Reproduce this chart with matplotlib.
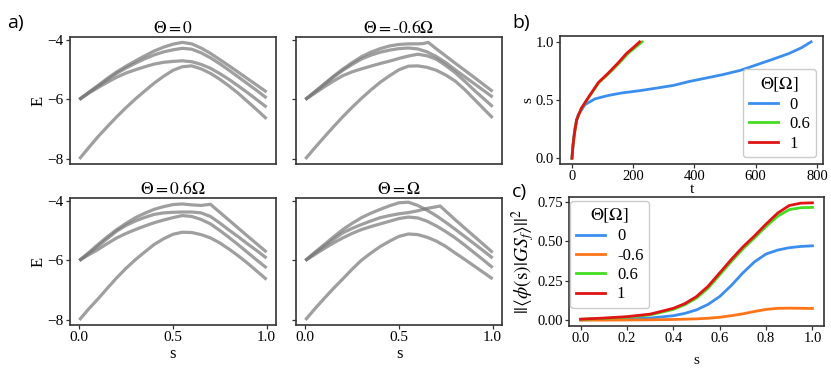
import matplotlib
matplotlib.use("Agg")
import matplotlib.pyplot as plt

plt.rcParams['font.family'] = ['Liberation Serif', 'DejaVu Serif']
plt.rcParams['mathtext.fontset'] = 'stix'

# ---------------- panel a data ----------------
s_grid = [0, .05, .1, .15, .2, .25, .3, .35, .4, .45, .5, .55, .6, .65, .7, .75, .8, .85, .9, .95, 1.0]

# Theta = 0
E0_A = [-6, -5.76, -5.53, -5.29, -5.07, -4.88, -4.70, -4.53, -4.37, -4.24, -4.14, -4.08, -4.13, -4.27, -4.45, -4.66, -4.87, -5.09, -5.31, -5.53, -5.75]
E0_B = [-6, -5.77, -5.55, -5.33, -5.12, -4.94, -4.78, -4.63, -4.50, -4.40, -4.33, -4.28, -4.31, -4.43, -4.60, -4.80, -5.02, -5.25, -5.48, -5.71, -5.95]
E0_C = [-6, -5.79, -5.60, -5.42, -5.25, -5.11, -5.00, -4.90, -4.81, -4.75, -4.72, -4.70, -4.73, -4.82, -4.95, -5.13, -5.33, -5.55, -5.78, -6.02, -6.26]
E0_D = [-8, -7.62, -7.25, -6.91, -6.58, -6.27, -5.98, -5.71, -5.45, -5.22, -5.02, -4.90, -4.87, -4.97, -5.12, -5.32, -5.55, -5.80, -6.08, -6.36, -6.65]

# Theta = -0.6 Omega
sm06_A = [0, .05, .1, .15, .2, .25, .3, .35, .4, .45, .5, .55, .6, .63, .656, .7, .8, .9, 1.0]
Em06_A = [-6, -5.74, -5.48, -5.22, -4.98, -4.76, -4.56, -4.41, -4.29, -4.20, -4.15, -4.13, -4.13, -4.12, -4.08, -4.30, -4.78, -5.25, -5.73]
Em06_B = [-6, -5.75, -5.50, -5.25, -5.02, -4.82, -4.64, -4.51, -4.41, -4.34, -4.29, -4.27, -4.30, -4.40, -4.56, -4.76, -5.00, -5.23, -5.46, -5.69, -5.92]
Em06_C = [-6, -5.79, -5.58, -5.38, -5.20, -5.07, -4.97, -4.88, -4.79, -4.71, -4.62, -4.54, -4.48, -4.53, -4.65, -4.86, -5.10, -5.38, -5.68, -5.96, -6.24]
Em06_D = [-8, -7.63, -7.27, -6.92, -6.58, -6.26, -5.96, -5.68, -5.42, -5.20, -5.00, -4.88, -4.87, -4.92, -5.02, -5.18, -5.38, -5.66, -5.98, -6.30, -6.62]

# Theta = 0.6 Omega
sp06_A = [0, .05, .1, .15, .2, .25, .3, .35, .4, .45, .5, .55, .6, .65, .7, .8, .9, 1.0]
Ep06_A = [-6, -5.74, -5.46, -5.20, -4.96, -4.75, -4.56, -4.41, -4.28, -4.19, -4.12, -4.10, -4.13, -4.15, -4.11, -4.65, -5.19, -5.72]
Ep06_B = [-6, -5.76, -5.52, -5.26, -5.01, -4.82, -4.67, -4.55, -4.45, -4.40, -4.38, -4.37, -4.37, -4.40, -4.52, -4.74, -4.98, -5.21, -5.45, -5.68, -5.92]
Ep06_C = [-6, -5.81, -5.63, -5.43, -5.24, -5.09, -4.96, -4.84, -4.73, -4.64, -4.56, -4.49, -4.52, -4.62, -4.77, -4.99, -5.23, -5.48, -5.74, -6.00, -6.25]
Ep06_D = [-8, -7.63, -7.29, -6.93, -6.58, -6.26, -5.97, -5.71, -5.46, -5.27, -5.12, -5.05, -5.06, -5.13, -5.24, -5.41, -5.62, -5.85, -6.10, -6.37, -6.64]

# Theta = Omega
sp1_A = [0, .05, .1, .15, .2, .25, .3, .35, .4, .45, .5, .55, .6, .65, .72, .8, .9, 1.0]
Ep1_A = [-6, -5.75, -5.52, -5.29, -5.07, -4.92, -4.79, -4.67, -4.56, -4.49, -4.43, -4.39, -4.33, -4.25, -4.17, -4.63, -5.18, -5.73]
Ep1_B = [-6, -5.73, -5.47, -5.21, -4.96, -4.75, -4.56, -4.41, -4.28, -4.16, -4.06, -4.04, -4.15, -4.31, -4.50, -4.72, -4.95, -5.19, -5.43, -5.67, -5.92]
Ep1_C = [-6, -5.80, -5.60, -5.41, -5.24, -5.09, -4.96, -4.86, -4.77, -4.68, -4.59, -4.54, -4.57, -4.68, -4.84, -5.03, -5.24, -5.48, -5.73, -5.98, -6.24]
Ep1_D = [-8, -7.63, -7.28, -6.94, -6.62, -6.29, -5.99, -5.75, -5.53, -5.35, -5.19, -5.11, -5.13, -5.22, -5.35, -5.53, -5.75, -5.96, -6.18, -6.40, -6.62]

titles_a = [r'$\Theta = 0$', r'$\Theta = $-$0.6\Omega$', r'$\Theta = 0.6\Omega$', r'$\Theta = \Omega$']

# ---------------- panel b data ----------------
t_b0 = [0, 4, 9, 20, 42, 75, 120, 161, 220, 270, 330, 384, 440, 492, 550, 600, 650, 709, 750, 781]
s_b0 = [0, 0.13, 0.25, 0.37, 0.46, 0.51, 0.54, 0.56, 0.58, 0.60, 0.625, 0.66, 0.69, 0.718, 0.755, 0.80, 0.845, 0.90, 0.95, 1.0]
t_b06 = [0, 3, 7, 15, 31, 54, 88, 121, 155, 183, 206, 229]
t_b1 = [0, 3, 7, 15, 31, 53, 86, 118, 151, 178, 200, 221]
s_b06 = [0, 0.1, 0.19, 0.33, 0.43, 0.52, 0.65, 0.73, 0.82, 0.90, 0.95, 1.0]
labels_b = ['0', '0.6', '1']

# ---------------- panel c data ----------------
s_c = [0, 0.1, 0.2, 0.3, 0.4, 0.45, 0.5, 0.55, 0.6, 0.65, 0.7, 0.75, 0.8, 0.85, 0.9, 0.95, 1.0]
ov_0 = [0.002, 0.004, 0.007, 0.013, 0.028, 0.043, 0.065, 0.10, 0.15, 0.22, 0.30, 0.37, 0.42, 0.445, 0.46, 0.468, 0.472]
ov_m06 = [0.0, 0.0, 0.001, 0.002, 0.004, 0.006, 0.008, 0.012, 0.018, 0.028, 0.04, 0.055, 0.068, 0.075, 0.076, 0.075, 0.074]
ov_06 = [0.005, 0.011, 0.019, 0.033, 0.068, 0.098, 0.14, 0.203, 0.287, 0.372, 0.452, 0.522, 0.595, 0.66, 0.702, 0.714, 0.716]
ov_1 = [0.006, 0.013, 0.022, 0.038, 0.075, 0.105, 0.15, 0.215, 0.30, 0.385, 0.465, 0.535, 0.61, 0.68, 0.728, 0.743, 0.745]
labels_c = ['0', '-0.6', '0.6', '1']

C_BLUE = '#3b8eee'
C_ORANGE = '#ff7417'
C_GREEN = '#44dd1f'
C_RED = '#e01414'

fig = plt.figure(figsize=(8.31, 3.72), dpi=100)

def style(ax):
    for sp in ax.spines.values():
        sp.set_linewidth(1.2)
        sp.set_color('#333333')
    ax.tick_params(direction='out', length=3, width=0.9, color='#333333', labelsize=11, pad=1.5)

W = 0.2479
H = 0.3414
pos_a = [(0.0842, 0.5591), (0.3562, 0.5591), (0.0842, 0.1263), (0.3562, 0.1263)]
curves_a = [
    [(s_grid, E0_A), (s_grid, E0_B), (s_grid, E0_C), (s_grid, E0_D)],
    [(sm06_A, Em06_A), (s_grid, Em06_B), (s_grid, Em06_C), (s_grid, Em06_D)],
    [(sp06_A, Ep06_A), (s_grid, Ep06_B), (s_grid, Ep06_C), (s_grid, Ep06_D)],
    [(sp1_A, Ep1_A), (s_grid, Ep1_B), (s_grid, Ep1_C), (s_grid, Ep1_D)],
]
for i, (p, curves, title) in enumerate(zip(pos_a, curves_a, titles_a)):
    ax = fig.add_axes([p[0], p[1], W, H])
    for sx, ey in curves:
        ax.plot(sx, ey, color='#7a7a7a', alpha=0.72, lw=2.3,
                solid_capstyle='butt', solid_joinstyle='round')
    ax.set_xlim(-0.05, 1.05)
    ax.set_ylim(-8.17, -3.9)
    ax.set_yticks([-4, -6, -8])
    ax.set_xticks([0.0, 0.5, 1.0])
    style(ax)
    ax.set_title(title, fontsize=12.5, pad=2)
    if i < 2:
        ax.tick_params(axis='x', length=0, labelbottom=False)
    else:
        ax.set_xlabel('s', fontsize=12, labelpad=1)
    if i % 2 == 1:
        ax.tick_params(axis='y', labelleft=False)
    else:
        ax.set_ylabel('E', fontsize=12, labelpad=1)

leg_kw = dict(title=r'$\Theta[\Omega]$', fontsize=12, title_fontsize=13,
              handlelength=1.75, framealpha=1, edgecolor='#cccccc',
              borderpad=0.35, labelspacing=0.2, handletextpad=0.7)

# panel b
axb = fig.add_axes([0.6739, 0.5591, 0.3165, 0.344])
axb.plot(t_b0, s_b0, color=C_BLUE, lw=2, label=labels_b[0])
axb.plot(t_b06, s_b06, color=C_GREEN, lw=2, label=labels_b[1])
axb.plot(t_b1, s_b06, color=C_RED, lw=2, label=labels_b[2])
axb.set_xticks([0, 200, 400, 600, 800])
axb.set_yticks([0.0, 0.5, 1.0])
style(axb)
axb.tick_params(labelsize=10.5)
axb.set_xlabel('t', fontsize=11, labelpad=0)
axb.set_ylabel('s', fontsize=11, labelpad=1)
axb.legend(loc='lower right', borderaxespad=0.4, **leg_kw)

# panel c
axc = fig.add_axes([0.6847, 0.1237, 0.3069, 0.3468])
axc.plot(s_c, ov_0, color=C_BLUE, lw=2, label=labels_c[0])
axc.plot(s_c, ov_m06, color=C_ORANGE, lw=2, label=labels_c[1])
axc.plot(s_c, ov_06, color=C_GREEN, lw=2, label=labels_c[2])
axc.plot(s_c, ov_1, color=C_RED, lw=2, label=labels_c[3])
axc.set_xticks([0.0, 0.2, 0.4, 0.6, 0.8, 1.0])
axc.set_yticks([0.0, 0.25, 0.5, 0.75])
style(axc)
axc.tick_params(labelsize=10.5)
axc.set_xlabel('s', fontsize=11, labelpad=6)
axc.set_ylabel(r'$||\langle\phi(\mathrm{s})|GS_f\rangle||^2$', fontsize=14, labelpad=0)
axc.legend(loc='upper left', bbox_to_anchor=(0.005, 0.97), borderaxespad=0.0, **leg_kw)

for txt, x, y in [('a)', 0.008, 0.925), ('b)', 0.616, 0.925), ('c)', 0.616, 0.47)]:
    fig.text(x, y, txt, fontsize=14, family='Open Sans')

fig.savefig('out.png', dpi=100)
